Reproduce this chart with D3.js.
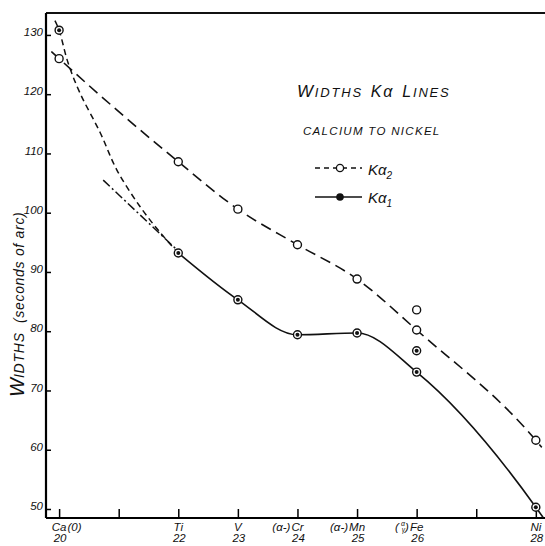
<!DOCTYPE html>
<html><head><meta charset="utf-8">
<script src="https://cdn.jsdelivr.net/npm/d3@7"></script>
<style>
body{margin:0;background:#fff;}
svg{display:block;}
text{font-family:"Liberation Sans",Arial,sans-serif;font-style:italic;fill:#111;}
</style></head>
<body><svg id="c" width="545" height="546"></svg>
<script>
// ---- data ----
const atomicNumbers = [20, 22, 23, 24, 25, 26, 28];
const elementSymbols = ["Ca", "Ti", "V", "Cr", "Mn", "Fe", "Ni"];
const elementPrefix = ["", "", "", "(α-)", "(α-)", "FE_PREFIX", ""];
const elementSuffix = ["(0)", "", "", "", "", "", ""];
const xTickValues = [20, 21, 22, 23, 24, 25, 26, 27, 28];
const yTickValues = [50, 60, 70, 80, 90, 100, 110, 120, 130];

const ka2Values = [126.0, 108.6, 100.6, 94.6, 88.8, 80.2, 61.6];
const ka1Values = [130.8, 93.2, 85.3, 79.4, 79.7, 73.1, 50.3];
// extra isolated Fe readings
const ka2FeExtra = [[26, 83.6]];
const ka1FeExtra = [[26, 76.7]];

// Kα2 curve: extension before Ca, points, extension past Ni
const ka2CurveX = [19.87, 20, 22, 23, 24, 25, 26, 28, 28.1];
const ka2CurveY = [127.2, 126.0, 108.6, 100.6, 94.6, 88.8, 80.2, 61.6, 60.4];
// Kα1 solid curve from Ti to past Ni
const ka1CurveX = [22, 23, 24, 25, 26, 28, 28.12];
const ka1CurveY = [93.2, 85.3, 79.4, 79.7, 73.1, 50.3, 48.6];
// short-dashed extrapolation Ca -> Ti
const ka1DashX = [19.93, 20, 20.15, 20.35, 20.69, 20.97, 21.36, 21.7, 22];
const ka1DashY = [132.4, 130.8, 125.3, 120.2, 113.5, 107.2, 101.0, 96.6, 93.2];
// dash-dot segment
const dashDotX = [20.74, 21.95];
const dashDotY = [105.5, 94.0];

// ---- scales ----
const svg = d3.select("#c");
const x = d3.scaleLinear().domain([19.78, 28.154]).range([46, 545]);
const y = d3.scaleLinear().domain([48.48, 133.7]).range([518, 13]);

// frame
svg.append("line").attr("x1", x(19.78)).attr("x2", x(28.154)).attr("y1", y(133.7)).attr("y2", y(133.7))
  .attr("stroke", "#111").attr("stroke-width", 2);

// axes
const yAxis = d3.axisLeft(y).tickValues(yTickValues).tickSize(-5).tickFormat(d3.format("d")).tickPadding(3);
const gy = svg.append("g").attr("transform", `translate(${x(19.78)},0)`).call(yAxis);
gy.select(".domain").attr("stroke-width", 2.2).attr("d", `M0,${y(133.7)}V${y(48.48)}`);
gy.selectAll(".tick line").attr("stroke-width", 1.5);
gy.selectAll(".tick text").attr("font-size", 11.5).attr("dy", "0.05em").attr("fill", "#111")
  .attr("font-family", "Liberation Sans").attr("font-style", "italic");

const xAxis = d3.axisBottom(x).tickValues(xTickValues).tickSize(-9).tickFormat("");
const gx = svg.append("g").attr("transform", `translate(0,${y(48.48)})`).call(xAxis);
gx.select(".domain").attr("stroke-width", 2.2).attr("d", `M${x(19.78)},0H${x(28.154)}`);
gx.selectAll(".tick line").attr("stroke-width", 1.5);

// x labels
const labG = svg.append("g");
const symY = 531, numY = 542;
atomicNumbers.forEach((n, i) => {
  const cx = x(n);
  const sym = labG.append("text").attr("x", cx).attr("y", symY).attr("text-anchor", "middle")
    .attr("font-size", 11.5).text(elementSymbols[i]);
  const w = sym.node().getComputedTextLength();
  if (elementSuffix[i]) {
    labG.append("text").attr("x", cx + w / 2 + 1).attr("y", symY).attr("font-size", 11.5).text(elementSuffix[i]);
  }
  if (elementPrefix[i] === "FE_PREFIX") {
    const ex = cx - w / 2 - 1;
    labG.append("text").attr("x", ex).attr("y", symY).attr("text-anchor", "end").attr("font-size", 11.5).text(")");
    labG.append("text").attr("x", ex - 4).attr("y", symY - 5).attr("text-anchor", "end").attr("font-size", 7).text("α");
    labG.append("text").attr("x", ex - 4).attr("y", symY + 1).attr("text-anchor", "end").attr("font-size", 6.5).text("γ");
    labG.append("text").attr("x", ex - 10).attr("y", symY).attr("text-anchor", "end").attr("font-size", 11.5).text("(");
  } else if (elementPrefix[i]) {
    labG.append("text").attr("x", cx - w / 2 - 1).attr("y", symY).attr("text-anchor", "end")
      .attr("font-size", 11.5).text(elementPrefix[i]);
  }
  labG.append("text").attr("x", cx + 1).attr("y", numY).attr("text-anchor", "middle")
    .attr("font-size", 11.5).text(n);
});

// y axis title
const yt = svg.append("text").attr("transform", "translate(24,397) rotate(-90)").attr("text-anchor", "start");
yt.append("tspan").attr("font-size", 20).text("W");
yt.append("tspan").attr("font-size", 14).attr("letter-spacing", 0.8).text("IDTHS");
yt.append("tspan").attr("font-size", 14).attr("dx", 9).attr("letter-spacing", 0.7).text("(seconds of arc)");

// lines
const line = d3.line().x(d => x(d[0])).y(d => y(d[1]));
const zip = (a, b) => a.map((v, i) => [v, b[i]]);

svg.append("path").datum(zip(ka2CurveX, ka2CurveY))
  .attr("d", line.curve(d3.curveMonotoneX)).attr("fill", "none").attr("stroke", "#111")
  .attr("stroke-width", 1.6).attr("stroke-dasharray", "11,6");
svg.append("path").datum(zip(ka1CurveX, ka1CurveY))
  .attr("d", line.curve(d3.curveMonotoneX)).attr("fill", "none").attr("stroke", "#111")
  .attr("stroke-width", 1.6);
svg.append("path").datum(zip(ka1DashX, ka1DashY))
  .attr("d", line.curve(d3.curveCatmullRom)).attr("fill", "none").attr("stroke", "#111")
  .attr("stroke-width", 1.5).attr("stroke-dasharray", "6,4");
svg.append("path").datum(zip(dashDotX, dashDotY))
  .attr("d", line.curve(d3.curveLinear)).attr("fill", "none").attr("stroke", "#111")
  .attr("stroke-width", 1.5).attr("stroke-dasharray", "9,3,2,3");

// markers
const ka2Pts = zip(atomicNumbers, ka2Values).concat(ka2FeExtra);
const ka1Pts = zip(atomicNumbers, ka1Values).concat(ka1FeExtra);
svg.append("g").selectAll("circle").data(ka2Pts).join("circle")
  .attr("cx", d => x(d[0])).attr("cy", d => y(d[1])).attr("r", 4)
  .attr("fill", "#fff").attr("stroke", "#111").attr("stroke-width", 1.4);
const g1 = svg.append("g");
g1.selectAll("circle.o").data(ka1Pts).join("circle").attr("class", "o")
  .attr("cx", d => x(d[0])).attr("cy", d => y(d[1])).attr("r", 4)
  .attr("fill", "#fff").attr("stroke", "#111").attr("stroke-width", 1.4);
g1.selectAll("circle.i").data(ka1Pts).join("circle").attr("class", "i")
  .attr("cx", d => x(d[0])).attr("cy", d => y(d[1])).attr("r", 2).attr("fill", "#111");

// title
const t1 = svg.append("text").attr("x", 297).attr("y", 97).attr("letter-spacing", 1.8);
t1.append("tspan").attr("font-size", 17).text("W");
t1.append("tspan").attr("font-size", 13).text("IDTHS");
t1.append("tspan").attr("font-size", 16).attr("dx", 8).text("K");
t1.append("tspan").attr("font-size", 16).text("α");
t1.append("tspan").attr("font-size", 16).attr("dx", 8).text("L");
t1.append("tspan").attr("font-size", 13).text("INES");

svg.append("text").attr("x", 303).attr("y", 135).attr("font-size", 11.5).attr("letter-spacing", 1.3)
  .text("CALCIUM TO NICKEL");

// legend
svg.append("line").attr("x1", 315).attr("x2", 362).attr("y1", 168).attr("y2", 168)
  .attr("stroke", "#111").attr("stroke-width", 1.4).attr("stroke-dasharray", "5,4");
svg.append("circle").attr("cx", 340).attr("cy", 168).attr("r", 3.6).attr("fill", "#fff")
  .attr("stroke", "#111").attr("stroke-width", 1.3);
svg.append("line").attr("x1", 315).attr("x2", 362).attr("y1", 197).attr("y2", 197)
  .attr("stroke", "#111").attr("stroke-width", 1.4);
svg.append("circle").attr("cx", 340).attr("cy", 197).attr("r", 3.8).attr("fill", "#111");

const l2 = svg.append("text").attr("x", 368).attr("y", 175).attr("font-size", 15);
l2.append("tspan").text("Kα");
l2.append("tspan").attr("font-size", 10).attr("dy", 4).text("2");
const l1 = svg.append("text").attr("x", 368).attr("y", 203).attr("font-size", 15);
l1.append("tspan").text("Kα");
l1.append("tspan").attr("font-size", 10).attr("dy", 4).text("1");
</script></body></html>
